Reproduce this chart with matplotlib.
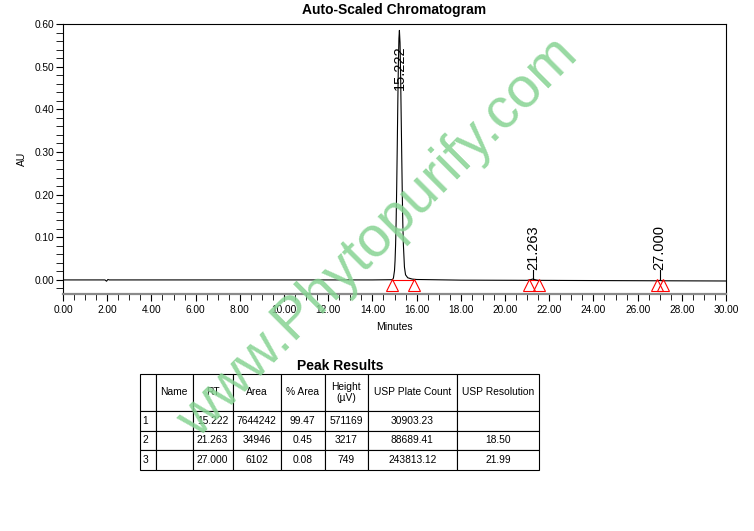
import matplotlib
matplotlib.use("Agg")
import matplotlib.pyplot as plt
from matplotlib.ticker import MultipleLocator, FormatStrFormatter

plt.rcParams['font.family'] = ['Liberation Sans', 'DejaVu Sans']

# chromatogram trace (minutes, AU)
time_min = [0.0, 1.90, 1.97, 2.03, 2.10, 5.0, 10.0, 14.0, 14.90, 14.95, 15.00, 15.025,
            15.05, 15.075, 15.10, 15.125, 15.15, 15.175, 15.20, 15.222, 15.25, 15.275,
            15.30, 15.325, 15.35, 15.375, 15.40, 15.45, 15.50, 15.60, 15.80, 16.00,
            18.0, 21.0, 21.15, 21.263, 21.38, 21.50, 24.0, 26.90, 27.00, 27.10, 30.0]
au = [0.0, 0.0, -0.003, 0.001, 0.0, 0.0, 0.0, 0.0, 0.0005, 0.004, 0.022, 0.045,
      0.083, 0.14, 0.219, 0.314, 0.416, 0.505, 0.566, 0.585, 0.556, 0.486,
      0.392, 0.30, 0.21, 0.135, 0.085, 0.03, 0.012, 0.005, 0.002, 0.001,
      -0.0005, -0.001, 0.0005, 0.0022, 0.0003, -0.001, -0.0015, -0.002, -0.0012, -0.002, -0.0025]

# peaks
peak_rt = [15.222, 21.263, 27.000]
peak_labels = ['15.222', '21.263', '27.000']
peak_start = [14.87, 21.08, 26.88]
peak_end = [15.86, 21.56, 27.13]

# table
col_labels = ['', 'Name', 'RT', 'Area', '% Area', 'Height\n(µV)', 'USP Plate Count', 'USP Resolution']
rows = [
    ['1', '', '15.222', '7644242', '99.47', '571169', '30903.23', ''],
    ['2', '', '21.263', '34946', '0.45', '3217', '88689.41', '18.50'],
    ['3', '', '27.000', '6102', '0.08', '749', '243813.12', '21.99'],
]
col_widths = [15.7, 37, 40, 48, 44.3, 42.7, 89.6, 82]

fig = plt.figure(figsize=(7.54, 5.31), dpi=100)
ax = fig.add_axes([63 / 754, 1 - 294 / 531, 663 / 754, 270 / 531])

ax.plot(time_min, au, color='black', lw=0.8, zorder=3)

# integration baselines and markers
for s, e in zip(peak_start, peak_end):
    ax.plot([s, e], [0.0005, 0.0005], color='red', lw=0.8, zorder=2)
    ax.plot([s, e], [-0.0125, -0.0125], ls='none', marker='^', ms=8,
            mfc='none', mec='red', mew=0.8, zorder=4)

# peak labels
ax.text(peak_rt[0], 0.445, peak_labels[0], rotation=90, ha='center', va='bottom',
        fontsize=10.5, zorder=5)
for rt, lab in zip(peak_rt[1:], peak_labels[1:]):
    ax.plot([rt, rt], [0.001, 0.023], color='black', lw=0.8)
    ax.text(rt, 0.024, lab, rotation=90, ha='center', va='bottom', fontsize=10.5)

ax.set_xlim(0, 30)
ax.set_ylim(-0.033, 0.60)
ax.xaxis.set_major_locator(MultipleLocator(2))
ax.xaxis.set_minor_locator(MultipleLocator(0.5))
ax.yaxis.set_major_locator(MultipleLocator(0.1))
ax.yaxis.set_minor_locator(MultipleLocator(0.02))
ax.xaxis.set_major_formatter(FormatStrFormatter('%.2f'))
ax.yaxis.set_major_formatter(FormatStrFormatter('%.2f'))
ax.tick_params(axis='both', which='both', direction='out', labelsize=7.3)
ax.tick_params(axis='x', which='major', length=5, pad=3)
ax.tick_params(axis='x', which='minor', length=4)
ax.tick_params(axis='y', which='both', length=5, pad=1)

for sp in ['top', 'right', 'left']:
    ax.spines[sp].set_linewidth(0.8)
ax.spines['bottom'].set_color('#8a8a8a')
ax.spines['bottom'].set_linewidth(1.6)

ax.set_xlabel('Minutes', fontsize=7.5)
ax.set_ylabel('AU', fontsize=7.5)
ax.xaxis.set_label_coords(0.5, -0.104)
ax.yaxis.set_label_coords(-0.054, 0.5)
ax.set_title('Auto-Scaled Chromatogram', fontsize=10, fontweight='bold', pad=7)

# results table
fig.text(340 / 754, 1 - 366 / 531, 'Peak Results', ha='center', va='center',
         fontsize=10, fontweight='bold')
tax = fig.add_axes([140 / 754, 1 - 470 / 531, 399 / 754, 96 / 531])
tax.axis('off')
tbl = tax.table(cellText=rows, colLabels=col_labels, colWidths=col_widths,
                cellLoc='center', bbox=[0, 0, 1, 1])
tbl.auto_set_font_size(False)
tbl.set_fontsize(7.4)
for (r, c), cell in tbl.get_celld().items():
    cell.set_linewidth(0.8)
    cell.set_height(37 if r == 0 else 19.7)
    cell.PAD = 0.04
    if c == 0 and r > 0:
        cell.get_text().set_ha('left')
        cell.PAD = 0.15

# watermark
fig.text(378 / 754, 1 - 238 / 531, 'www.Phytopurify.com', rotation=45,
         ha='center', va='center', fontsize=41, color='#86d392', alpha=0.85,
         zorder=10)

fig.savefig('out.png', dpi=100)
